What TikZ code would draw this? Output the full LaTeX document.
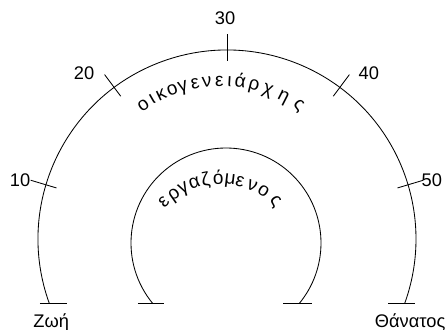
\documentclass[tikz,border=0pt]{standalone}
\usepackage{fontspec}
\setmainfont{Liberation Sans}
\usetikzlibrary{calc}

\begin{document}
\begin{tikzpicture}[
    line width=0.6pt,
    agenum/.style={font=\fontsize{13}{15}\selectfont,inner sep=0pt},
    arcletter/.style={font=\fontsize{13.5}{15}\selectfont,inner sep=0pt,anchor=base},
    endword/.style={font=\fontsize{13}{15}\selectfont,inner sep=0pt}
  ]
  \useasboundingbox (-5.675,-2.25) rectangle (5.525,5.975);

  % life arc, ages 0 to 60
  \coordinate (lc) at (0,0);
  \draw (200:4.725) coordinate (birth)
    arc[start angle=200,end angle=-20,radius=4.725] coordinate (death);
  \draw (-4.675,-1.616) -- (-4.0,-1.616);
  \draw (4.025,-1.616) -- (4.7,-1.616);

  % working life arc
  \coordinate (wc) at (-0.025,-0.1);
  \draw ($(wc)+(219.7:2.375)$) coordinate (wstart)
    arc[start angle=219.7,end angle=-39.7,radius=2.375] coordinate (wend);
  \draw (-2.225,-1.616) -- (-1.575,-1.616);
  \draw (1.4,-1.616) -- (2.125,-1.616);

  % ticks and ages
  \foreach \age in {10,20,30,40,50}
    \draw ({200-11*\age/3}:4.45) -- ({200-11*\age/3}:5.125);
  \foreach \age/\la/\lr in {10/164.1/5.38,20/130.7/5.48,30/90.5/5.525,40/49.5/5.46,50/16.1/5.33}
    \node (age\age)[agenum] at (\la:\lr) {\age};

  % curved words
  \coordinate (oc) at (-0.15,0.5);
  \foreach \ch/\a [count=\i] in {ο/124.3,ι/119.9,κ/115.7,ο/110.7,γ/106.1,ε/100.8,ν/95.9,ε/90.7,ι/86.5,ά/82.0,ρ/76.1,χ/70.1,η/63.0,ς/55.5}
    \node (oik\i)[arcletter,rotate=\a-90] at ($(oc)+(\a:3.32)$) {\ch};

  \coordinate (ic) at (-0.16,-0.525);
  \foreach \ch/\a [count=\i] in {ε/134.5,ρ/125.2,γ/117.5,α/108.8,ζ/100.6,ό/91.6,μ/83.3,ε/76.1,ν/67.0,ο/58.0,ς/47.3}
    \node (erg\i)[arcletter,rotate=\a-90] at ($(ic)+(\a:1.9)$) {\ch};

  % end labels
  \node (zoi)[endword,anchor=base west] at (-4.85,-2.2) {Ζωή};
  \node (thanatos)[endword,anchor=base east] at (5.47,-2.2) {Θάνατος};
\end{tikzpicture}
\end{document}
